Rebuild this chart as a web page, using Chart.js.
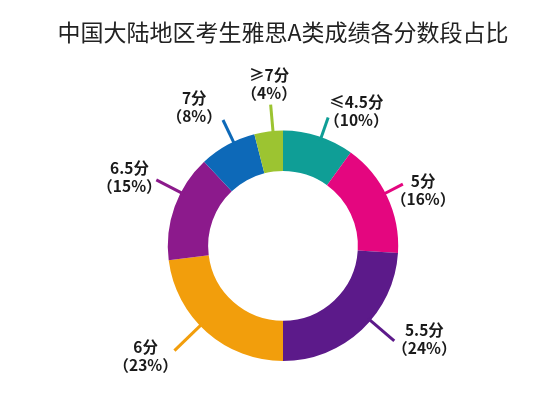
<!DOCTYPE html>
<html>
<head>
<meta charset="utf-8">
<script src="https://cdn.jsdelivr.net/npm/chart.js@4.4.1/dist/chart.umd.min.js"></script>
<style>
  html, body { margin: 0; padding: 0; background: #fff; }
  #wrap { width: 542px; height: 397px; }
</style>
</head>
<body>
<div id="wrap"><canvas id="chart"></canvas></div>
<script>
var categories = ["≤4.5分", "5分", "5.5分", "6分", "6.5分", "7分", "≥7分"];
var shares = [10, 16, 24, 23, 15, 8, 4];
var colors = ["#0f9e96", "#e4067f", "#5c1a8a", "#f29e0c", "#8c1a8c", "#0d69b8", "#9cc431"];

// leader line + label placement, angles in degrees relative to slice middle,
// distances as factors of the outer radius
var labelLayout = [
  { lineShift: 1.4,  lineOut: 1.18, textShift: 10.6,  textDist: 1.33 },
  { lineShift: -2,   lineOut: 1.17, textShift: 3.4,   textDist: 1.31 },
  { lineShift: -6.3, lineOut: 1.27, textShift: -13.4, textDist: 1.47 },
  { lineShift: 4.6,  lineOut: 1.31, textShift: 9.8,   textDist: 1.53 },
  { lineShift: 7.7,  lineOut: 1.24, textShift: 4.3,   textDist: 1.46 },
  { lineShift: 3.3,  lineOut: 1.21, textShift: -3.8,  textDist: 1.43 },
  { lineShift: 2.2,  lineOut: 1.23, textShift: 2.3,   textDist: 1.41 }
];

var FONT = '"Noto Sans CJK SC", "Noto Sans", sans-serif';

const sliceLabels = {
  id: "sliceLabels",
  afterDatasetsDraw(chart) {
    var ctx = chart.ctx;
    var meta = chart.getDatasetMeta(0);
    meta.data.forEach(function (arc, i) {
      var p = arc.getProps(["x", "y", "startAngle", "endAngle", "outerRadius"], true);
      var mid = (p.startAngle + p.endAngle) / 2;
      var lay = labelLayout[i];
      var la = mid + lay.lineShift * Math.PI / 180;
      var r0 = p.outerRadius * 0.97;
      var r1 = p.outerRadius * lay.lineOut;
      ctx.save();
      ctx.strokeStyle = colors[i];
      ctx.lineWidth = 3;
      ctx.beginPath();
      ctx.moveTo(p.x + r0 * Math.cos(la), p.y + r0 * Math.sin(la));
      ctx.lineTo(p.x + r1 * Math.cos(la), p.y + r1 * Math.sin(la));
      ctx.stroke();

      var ta = mid + lay.textShift * Math.PI / 180;
      var rt = p.outerRadius * lay.textDist;
      var tx = p.x + rt * Math.cos(ta);
      var ty = p.y + rt * Math.sin(ta);
      ctx.fillStyle = "#1a1a1a";
      ctx.font = "bold 15.5px " + FONT;
      ctx.textAlign = "center";
      ctx.textBaseline = "middle";
      ctx.fillText(categories[i], tx, ty - 9);
      ctx.fillText("（" + shares[i] + "%）", tx, ty + 9);
      ctx.restore();
    });
  }
};

new Chart(document.getElementById("chart"), {
  type: "doughnut",
  data: {
    labels: categories,
    datasets: [
      {
        data: shares,
        backgroundColor: colors,
        borderWidth: 0,
      },
    ],
  },
  options: {
    responsive: true,
    maintainAspectRatio: false,
    animation: false,
    cutout: "65%",
    layout: {
      padding: { left: 24, right: 0, top: 0, bottom: 36 },
    },
    plugins: {
      legend: { display: false },
      tooltip: { enabled: false },
      title: {
        display: true,
        text: "中国大陆地区考生雅思A类成绩各分数段占比",
        color: "#222",
        font: { family: FONT, size: 23, weight: "normal" },
        padding: { top: 18, bottom: 85 },
      },
    },
  },
  plugins: [sliceLabels],
});
</script>
</body>
</html>
